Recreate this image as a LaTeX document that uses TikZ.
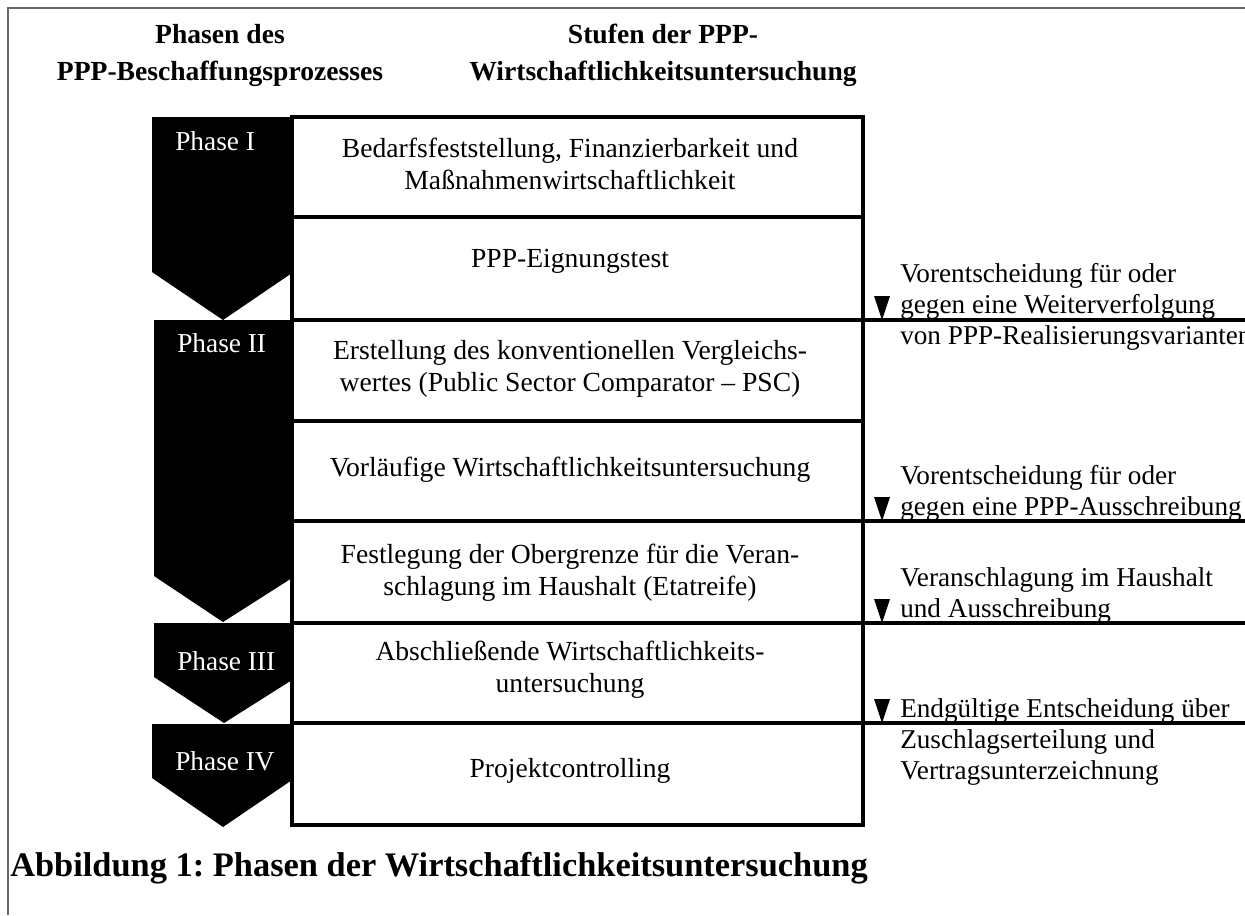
\documentclass[tikz,border=0pt]{standalone}
\usepackage{fontspec}
\setmainfont{Liberation Serif}
\usepackage{tikz}
\frenchspacing

\tikzset{
  rahmen/.style={line width=2.3},
  stufe/.style={anchor=north, align=center, inner sep=0pt, font=\fontsize{20.7}{24}\selectfont},
  hinweis/.style={anchor=north west, align=left, inner sep=0pt, font=\fontsize{20.4}{23.25}\selectfont},
  kopf/.style={anchor=north, align=center, inner sep=0pt, font=\fontsize{20.7}{27.75}\selectfont\bfseries},
  phasetext/.style={anchor=base west, inner sep=0pt, text=white, font=\fontsize{20.5}{24}\selectfont},
}

\begin{document}
\begin{tikzpicture}[x=0.75pt,y=0.75pt,yscale=-1,xscale=1]
\useasboundingbox (0,0) rectangle (1245,915);

%Frame
\draw [color={rgb, 255:red, 95; green, 107; blue, 117 }, line width=1.9]  (8,915) -- (8,8) -- (1245,8) ;

%Shape: Chevrons
\fill  (152,117) -- (292,117) -- (292,273) -- (223,320) -- (152,272) -- cycle ;
\fill  (154,320) -- (292,320) -- (292,578) -- (223,622) -- (154,576) -- cycle ;
\fill  (154,623) -- (292,623) -- (292,680) -- (224,723) -- (154,677) -- cycle ;
\fill  (152,724) -- (292,724) -- (292,780) -- (223,827) -- (152,778) -- cycle ;

%Shape: Rectangle
\draw [rahmen]  (292,117) rectangle (863,825) ;
%Straight Lines
\draw [rahmen]  (292,217) -- (863,217) ;
\draw [rahmen]  (292,320) -- (1245,320) ;
\draw [rahmen]  (292,421) -- (863,421) ;
\draw [rahmen]  (292,521) -- (1245,521) ;
\draw [rahmen]  (292,623) -- (1245,623) ;
\draw [rahmen]  (292,723) -- (1245,723) ;
\draw [line width=1.8]  (829,319) -- (860,319) ;
\draw [line width=1.8]  (826,520) -- (856,520) ;

%Shape: Triangles
\fill  (874,296) -- (890,296) -- (882,320) -- cycle ;
\fill  (874,497) -- (890,497) -- (882,521) -- cycle ;
\fill  (874,599) -- (890,599) -- (882,623) -- cycle ;
\fill  (874,699) -- (890,699) -- (882,723) -- cycle ;

% Text Node
\node [kopf] (kopfphasen) at (220,24) {Phasen des\\PPP-Beschaffungsprozesses};
% Text Node
\node [kopf] (kopfstufen) at (663,24) {Stufen der PPP-\\Wirtschaftlichkeitsuntersuchung};

% Text Node
\node [phasetext] (phase1) at (175,150) {Phase I};
% Text Node
\node [phasetext] (phase2) at (177,352) {Phase II};
% Text Node
\node [phasetext] (phase3) at (177,670) {Phase III};
% Text Node
\node [phasetext] (phase4) at (175,770) {Phase IV};

% Text Node
\node [stufe] (stufe1) at (570,138) {Bedarfsfeststellung, Finanzierbarkeit und\\Maßnahmenwirtschaftlichkeit};
% Text Node
\node [stufe] (stufe2) at (570,249) {PPP-Eignungstest};
% Text Node
\node [stufe] (stufe3) at (570,340) {Erstellung des konventionellen Vergleichs-\\wertes (Public Sector Comparator – PSC)};
% Text Node
\node [stufe] (stufe4) at (570,457) {Vorläufige Wirtschaftlichkeitsuntersuchung};
% Text Node
\node [stufe] (stufe5) at (570,544) {Festlegung der Obergrenze für die Veran-\\schlagung im Haushalt (Etatreife)};
% Text Node
\node [stufe] (stufe6) at (570,641) {Abschließende Wirtschaftlichkeits-\\untersuchung};
% Text Node
\node [stufe] (stufe7) at (570,758) {Projektcontrolling};

% Text Node
\node [hinweis] (hinweis1) at (900,263) {Vorentscheidung für oder\\gegen eine Weiterverfolgung\\von PPP-Realisierungsvarianten};
% Text Node
\node [hinweis] (hinweis2) at (900,465) {Vorentscheidung für oder\\gegen eine PPP-Ausschreibung};
% Text Node
\node [hinweis] (hinweis3) at (900,567) {Veranschlagung im Haushalt\\und Ausschreibung};
% Text Node
\node [hinweis] (hinweis4) at (900,698) {Endgültige Entscheidung über\\Zuschlagserteilung und\\Vertragsunterzeichnung};

% Text Node
\node [anchor=base west, inner sep=0pt, font=\fontsize{25.8}{30}\selectfont\bfseries] (abbildung) at (10,876) {Abbildung 1: Phasen der Wirtschaftlichkeitsuntersuchung};

\end{tikzpicture}
\end{document}
